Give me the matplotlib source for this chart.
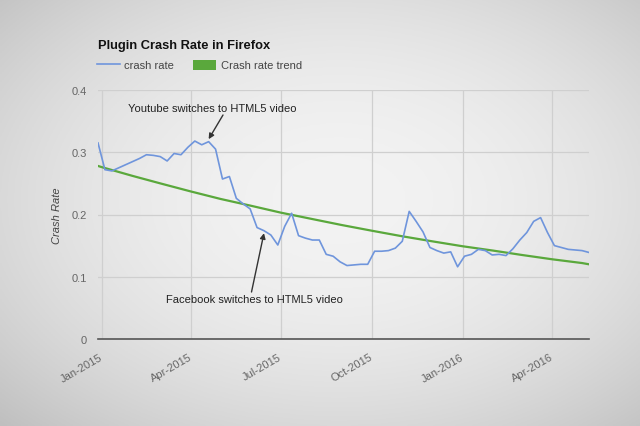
import numpy as np
import pandas as pd
import matplotlib
matplotlib.use("Agg")
import matplotlib.pyplot as plt
import matplotlib.dates as mdates
from matplotlib.lines import Line2D
from matplotlib.patches import Patch

plt.rcParams['font.family'] = ['Liberation Sans', 'DejaVu Sans']

# ---- data ----
start_date = "2014-12-28"
crash_rate = [
    0.315, 0.272, 0.270, 0.275, 0.280, 0.285, 0.290, 0.296, 0.295, 0.293,
    0.286, 0.298, 0.296, 0.308, 0.318, 0.312, 0.317, 0.305, 0.257, 0.261,
    0.226, 0.217, 0.209, 0.179, 0.174, 0.167, 0.151, 0.181, 0.202, 0.166,
    0.162, 0.159, 0.159, 0.136, 0.133, 0.124, 0.118, 0.119, 0.120, 0.120,
    0.141, 0.141, 0.142, 0.146, 0.157, 0.205, 0.189, 0.172, 0.147, 0.142,
    0.138, 0.140, 0.116, 0.133, 0.136, 0.144, 0.142, 0.135, 0.136, 0.134,
    0.145, 0.159, 0.171, 0.189, 0.195, 0.171, 0.150, 0.147, 0.144, 0.143,
    0.142, 0.139,
]
trend_dates = [
    "2014-12-28", "2015-01-01", "2015-02-01", "2015-03-01", "2015-04-01",
    "2015-05-01", "2015-06-01", "2015-07-01", "2015-08-01", "2015-09-01",
    "2015-10-01", "2015-11-01", "2015-12-01", "2016-01-01", "2016-02-01",
    "2016-03-01", "2016-04-01", "2016-05-01", "2016-05-08",
]
trend_values = [
    0.278, 0.276, 0.262, 0.250, 0.237, 0.225, 0.214, 0.203, 0.193, 0.183,
    0.174, 0.165, 0.157, 0.149, 0.142, 0.135, 0.128, 0.122, 0.120,
]
x_ticks = ["2015-01-01", "2015-04-01", "2015-07-01", "2015-10-01", "2016-01-01", "2016-04-01"]
x_tick_labels = ["Jan-2015", "Apr-2015", "Jul-2015", "Oct-2015", "Jan-2016", "Apr-2016"]
y_ticks = [0, 0.1, 0.2, 0.3, 0.4]
y_tick_labels = ["0", "0.1", "0.2", "0.3", "0.4"]

dates = pd.date_range(start_date, periods=len(crash_rate), freq="7D")
tdates = pd.to_datetime(trend_dates)

W, H = 640, 427
fig = plt.figure(figsize=(W / 100, H / 100), dpi=100)

# vignette background
bg = fig.add_axes([0, 0, 1, 1], zorder=-10)
yy, xx = np.mgrid[0:1:200j, 0:1:300j]
r2 = ((xx - 0.53) / 0.75) ** 2 + ((yy - 0.47) / 0.75) ** 2
g = np.clip(243 - 52 * r2, 0, 255) / 255.0
bg.imshow(np.dstack([g, g, g]), extent=[0, 1, 0, 1], aspect='auto', origin='upper')
bg.axis('off')

left, right = 98 / W, 589 / W
bottom, top = 1 - 340 / H, 1 - 91 / H
ax = fig.add_axes([left, bottom, right - left, top - bottom])
ax.set_facecolor('none')

ax.plot(dates, crash_rate, color='#6f95dc', lw=1.2, zorder=3)
ax.plot(tdates, trend_values, color='#5aa83c', lw=1.6, zorder=2)

ax.set_xlim(dates[0], dates[-1])
ax.set_ylim(0, 0.4)
ax.set_yticks(y_ticks)
ax.set_yticklabels(y_tick_labels)
ax.set_xticks(pd.to_datetime(x_ticks))
ax.set_xticklabels(x_tick_labels, rotation=30, ha='right', va='center', rotation_mode='anchor')
ax.tick_params(axis='both', length=0, colors='#666666', labelsize=8)
ax.tick_params(axis='y', pad=8)
ax.tick_params(axis='x', pad=12)
ax.grid(True, color='#cfcfcf', lw=0.9)
ax.set_axisbelow(True)
for s in ['top', 'right', 'left']:
    ax.spines[s].set_visible(False)
ax.spines['bottom'].set_color('#555555')
ax.spines['bottom'].set_linewidth(1.2)

ax.set_ylabel("Crash Rate", style='italic', color='#444444', fontsize=8, labelpad=6.5)

fig.text(98 / W, 1 - 46 / H, "Plugin Crash Rate in Firefox", fontsize=9.3,
         fontweight='bold', color='#111111', ha='left', va='center')

handles = [Line2D([0], [0], color='#6f95dc', lw=1.2),
           Patch(facecolor='#5aa83c', edgecolor='none')]
fig.legend(handles=handles, labels=["crash rate", "Crash rate trend"], ncol=2,
           loc='center left', bbox_to_anchor=(96.5 / W, 1 - 66 / H), frameon=False,
           fontsize=8, handlelength=2.1, handleheight=1.0, handletextpad=0.4,
           columnspacing=1.7, borderpad=0, borderaxespad=0, labelcolor='#444444')

# annotations
ax.text(212 / W, 1 - 109 / H, "Youtube switches to HTML5 video", transform=fig.transFigure,
        fontsize=8, color='#222222', ha='center', va='center')
ax.annotate("", xy=(pd.Timestamp("2015-04-19"), 0.321), xycoords='data',
            xytext=(223, H - 116), textcoords='figure pixels',
            arrowprops=dict(arrowstyle='-|>', color='#333333', lw=1.0, mutation_scale=8,
                            shrinkA=0, shrinkB=0))
ax.text(254 / W, 1 - 300 / H, "Facebook switches to HTML5 video", transform=fig.transFigure,
        fontsize=8, color='#222222', ha='center', va='center')
ax.annotate("", xy=(pd.Timestamp("2015-06-14"), 0.170), xycoords='data',
            xytext=(251.5, H - 293), textcoords='figure pixels',
            arrowprops=dict(arrowstyle='-|>', color='#333333', lw=1.0, mutation_scale=8,
                            shrinkA=0, shrinkB=0))

fig.savefig("out.png", dpi=100)
